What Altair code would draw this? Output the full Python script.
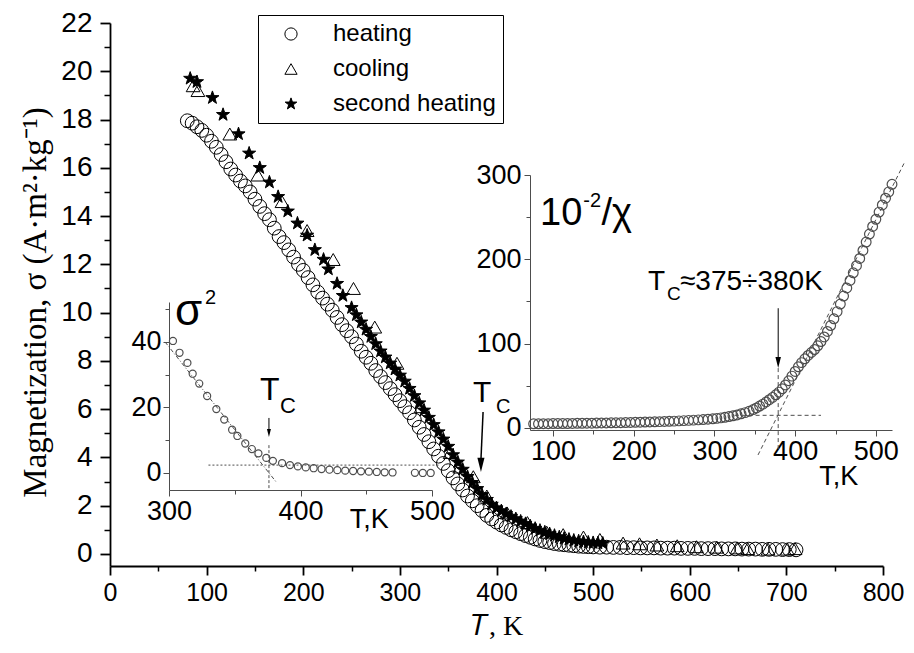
import altair as alt
import pandas as pd

SANS = "Liberation Sans"
SERIF = "Liberation Serif"

# ---------------- main data: magnetization vs T ----------------
series_names = ["heating", "cooling", "second heating"]

heat_T = [80, 85, 90, 95, 100, 105, 110, 115, 120, 125, 130, 135, 140, 145, 150, 155, 160, 165, 170, 175,
          180, 185, 190, 195, 200, 205, 210, 215, 220, 225, 230, 235, 240, 245, 250, 255, 260, 265, 270, 275,
          280, 285, 290, 295, 300, 305, 310, 315, 320, 325, 330, 335, 340, 345, 350, 355, 360, 365, 370, 375,
          380, 385, 390, 395, 400, 405, 410, 415, 420, 425, 430, 435, 440, 445, 450, 455, 460, 465, 470, 475,
          480, 485, 490, 495, 500, 507, 514, 521, 528, 535, 542, 549, 556, 563, 570, 577, 584, 591, 598, 605,
          612, 619, 626, 633, 640, 647, 654, 661, 668, 675, 682, 689, 696, 703, 710]
heat_S = [17.95, 17.85, 17.7, 17.55, 17.35, 17.1, 16.85, 16.55, 16.25, 15.95, 15.7, 15.45, 15.25, 15.0, 14.7,
          14.4, 14.1, 13.85, 13.5, 13.15, 12.9, 12.6, 12.3, 12.0, 11.75, 11.45, 11.15, 10.85, 10.6, 10.35,
          10.1, 9.8, 9.5, 9.25, 9.0, 8.7, 8.4, 8.15, 7.9, 7.6, 7.35, 7.1, 6.85, 6.6, 6.35, 6.1, 5.85, 5.55,
          5.25, 4.95, 4.65, 4.35, 4.05, 3.75, 3.45, 3.15, 2.9, 2.65, 2.4, 2.2, 2.0, 1.8, 1.6, 1.45, 1.32,
          1.2, 1.1, 1.0, 0.92, 0.84, 0.76, 0.69, 0.62, 0.56, 0.51, 0.47, 0.43, 0.4, 0.38, 0.36, 0.34, 0.32,
          0.31, 0.3, 0.29, 0.28, 0.28, 0.27, 0.27, 0.26, 0.26, 0.25, 0.25, 0.25, 0.24, 0.24, 0.24, 0.23,
          0.23, 0.23, 0.22, 0.22, 0.22, 0.21, 0.21, 0.21, 0.2, 0.2, 0.2, 0.19, 0.19, 0.19, 0.18, 0.18, 0.17]

cool_T = [86, 91, 124, 153, 178, 204, 231, 252, 274, 297, 322, 352, 362, 376, 390, 411, 432, 452, 469, 490,
          507, 531, 548, 566, 587, 607, 628, 649, 660, 681, 701, 709]
cool_S = [19.4, 19.2, 17.4, 15.7, 14.6, 13.4, 12.2, 11.0, 9.4, 7.9, 6.1, 4.2, 3.6, 3.2, 2.4, 1.7, 1.3, 0.9,
          0.8, 0.7, 0.6, 0.45, 0.42, 0.37, 0.34, 0.3, 0.28, 0.25, 0.22, 0.2, 0.2, 0.22]

star_T = [83, 90, 106, 117, 133, 144, 155, 165, 174, 184, 194, 204, 212, 221, 226, 235, 241, 250, 255, 260,
          265, 270, 275, 280, 285, 290, 295, 300, 305, 310, 315, 320, 325, 330, 335, 340, 345, 350, 355, 360,
          365, 370, 375, 380, 385, 390, 395, 400, 405, 410, 415, 420, 425, 430, 435, 440, 445, 450, 455, 460,
          465, 470, 475, 480, 485, 490, 495, 500, 505, 510]
star_S = [19.7, 19.56, 18.9, 18.2, 17.4, 16.6, 16.0, 15.4, 14.8, 14.2, 13.7, 13.2, 12.6, 12.2, 11.8, 11.2,
          10.7, 10.2, 9.9, 9.6, 9.3, 9.0, 8.7, 8.4, 8.15, 7.9, 7.65, 7.4, 7.15, 6.85, 6.55, 6.25, 5.95, 5.65,
          5.35, 5.05, 4.75, 4.45, 4.1, 3.8, 3.5, 3.2, 2.95, 2.7, 2.45, 2.25, 2.05, 1.9, 1.78, 1.66, 1.55, 1.45,
          1.35, 1.25, 1.15, 1.05, 0.97, 0.9, 0.83, 0.76, 0.7, 0.64, 0.6, 0.56, 0.53, 0.5, 0.48, 0.46, 0.45, 0.44]

# ---------------- left inset: sigma^2 vs T ----------------
s2_T = [303, 308, 314, 318, 323, 329, 336, 342, 348, 352, 358, 363, 368, 374, 379, 386, 392, 398, 404, 410,
        416, 422, 428, 434, 440, 446, 452, 458, 464, 470, 487, 493, 499]
s2_V = [40.3, 36.7, 33.6, 30.3, 27.3, 23.5, 19.5, 16.3, 13.2, 11.3, 9.0, 7.3, 6.0, 4.6, 3.7, 3.0, 2.4, 2.0,
        1.7, 1.45, 1.2, 1.0, 0.85, 0.7, 0.6, 0.5, 0.4, 0.3, 0.2, 0.15, 0.05, 0.0, 0.0]

# ---------------- right inset: 10^-2/chi vs T ----------------
chi_T = [76, 82, 88, 94, 100, 106, 112, 118, 124, 130, 136, 142, 148, 154, 160, 166, 172, 178, 184, 190,
         196, 202, 208, 214, 220, 226, 232, 238, 244, 250, 256, 262, 268, 274, 280, 286, 292, 298, 303, 308,
         313, 318, 323, 328, 333, 338, 343, 348, 352, 356, 360, 364, 368, 372, 376, 380, 384, 388, 392, 396,
         400, 404, 408, 412, 416, 420, 424, 428, 432, 436, 440, 444, 448, 452, 456, 460, 464, 468, 472, 476,
         480, 484, 488, 492, 496, 500, 504, 508, 512, 516, 520]
chi_V = [5.0, 5.0, 5.1, 5.1, 5.2, 5.2, 5.3, 5.3, 5.4, 5.5, 5.5, 5.6, 5.7, 5.8, 5.9, 6.0, 6.1, 6.2, 6.3, 6.4,
         6.5, 6.7, 6.8, 7.0, 7.1, 7.3, 7.5, 7.7, 7.9, 8.1, 8.4, 8.7, 9.0, 9.3, 9.6, 10.0, 10.4, 10.9, 11.4,
         12.0, 12.7, 13.5, 14.4, 15.5, 16.8, 18.2, 19.8, 21.8, 23.8, 26.0, 28.3, 30.8, 33.5, 36.3, 39.3, 42.5,
         46.5, 51.0, 56.0, 61.5, 67.0, 72.5, 77.5, 82.0, 86.0, 89.5, 93.0, 97.5, 102.5, 108.0, 114.5, 121.5,
         129.5, 138.0, 147.0, 156.5, 166.0, 175.0, 184.0, 192.5, 201.0, 210.5, 220.5, 230.0, 239.0, 247.5,
         256.0, 264.5, 272.5, 280.0, 289.0]

# ---------------- tick values (major / minor) ----------------
main_x_major = [0, 100, 200, 300, 400, 500, 600, 700, 800]
main_x_minor = [50, 150, 250, 350, 450, 550, 650, 750]
main_y_major = [0, 2, 4, 6, 8, 10, 12, 14, 16, 18, 20, 22]
main_y_minor = [1, 3, 5, 7, 9, 11, 13, 15, 17, 19, 21]
ls_x_major = [300, 400, 500]
ls_x_minor = [350, 450]
ls_y_major = [0, 20, 40]
ls_y_minor = [10, 30, 50]
rs_x_major = [100, 200, 300, 400, 500]
rs_x_minor = [150, 250, 350, 450]
rs_y_major = [0, 100, 200, 300]
rs_y_minor = [50, 150, 250]

# ---------------- annotations (in each panel's data units) ----------------
main_txt = ["T", "C"]
main_txt_x = [375.8, 399.6]
main_txt_y = [6.29, 5.84]
main_txt_fs = [30, 20]
main_arrow = [386.1, 5.88, 383.9, 3.9]
main_head = [383.9, 3.69]

ls_txt = ["σ", "2", "T", "C", "T,K"]
ls_txt_x = [304.6, 327.4, 369.2, 384.4, 437.5]
ls_txt_y = [45.2, 51.6, 22.3, 18.3, -16.8]
ls_txt_fs = [44, 20, 32, 22, 27]
ls_fit_line = [297, 40, 382, -3]
ls_base_line = [330, 2.4, 506, 2.4]
ls_tc_line = [376, 8.5, 376, -5.2]
ls_arrow = [376, 16.8, 376, 12.6]
ls_head = [376, 12.2]

rs_txt = ["10", "-2", "/χ", "T", "C", "≈375÷380K", "T,K"]
rs_txt_x = [83.9, 137.5, 160.0, 217.6, 241.2, 257.3, 430.0]
rs_txt_y = [240.8, 262.0, 240.8, 163.7, 151.8, 163.7, -67.6]
rs_txt_fs = [38, 20, 38, 28, 19, 28, 27]
rs_cw_line = [354, -32, 535, 314]
rs_base_line = [325, 15, 432, 15]
rs_tc_line = [379, 71, 379, -26]
rs_arrow = [379, 142, 379, 80]
rs_head = [379, 77.5]

HEAD = "M-0.5,-1L0.5,-1L0,1Z"
STAR = ("M0,-1L0.235,-0.324L0.951,-0.309L0.38,0.124L0.588,0.809L0,0.4L-0.588,0.809"
        "L-0.38,0.124L-0.951,-0.309L-0.235,-0.324Z")
GRAY = "#4d4d4d"


def major_axis(values, orient, offset, tick, color, width, fs, pad, **kw):
    return alt.Axis(orient=orient, offset=offset, values=values, tickSize=tick, tickColor=color,
                    tickWidth=width, domainColor=color, domainWidth=width, labelFont=SANS, labelFontSize=fs,
                    labelColor="black", labelPadding=pad, labelFlush=False, labelOverlap=False, grid=False,
                    **kw)


def minor_axis(values, orient, offset, tick, color, width):
    return alt.Axis(orient=orient, offset=offset, values=values, tickSize=tick, tickColor=color,
                    tickWidth=width, domain=False, labels=False, grid=False, title=None)


def seg(c, sx, sy, dash=None, color="black", width=1.0):
    df = pd.DataFrame({"x": [c[0]], "y": [c[1]], "x2": [c[2]], "y2": [c[3]]})
    kw = dict(color=color, strokeWidth=width)
    if dash:
        kw["strokeDash"] = dash
    return alt.Chart(df).mark_rule(**kw).encode(
        x=alt.X("x:Q", scale=sx, axis=None), y=alt.Y("y:Q", scale=sy, axis=None),
        x2="x2:Q", y2="y2:Q")


def head(c, size, sx, sy, color="black"):
    df = pd.DataFrame({"x": [c[0]], "y": [c[1]]})
    return alt.Chart(df).mark_point(shape=HEAD, filled=True, color=color, size=size, opacity=1,
                                    strokeWidth=0).encode(
        x=alt.X("x:Q", scale=sx, axis=None), y=alt.Y("y:Q", scale=sy, axis=None))


def texts(ts, xs, ys, fss, sx, sy, xaxis=None, yaxis=None, color="black"):
    df = pd.DataFrame({"x": xs, "y": ys, "t": ts, "fs": fss})
    return alt.Chart(df).mark_text(align="left", baseline="alphabetic", font=SANS, color=color).encode(
        x=alt.X("x:Q", scale=sx, axis=xaxis), y=alt.Y("y:Q", scale=sy, axis=yaxis),
        text="t:N", size=alt.Size("fs:Q", scale=None, legend=None))


# ================= main panel =================
W, H = 773, 543
mx = alt.Scale(domain=[0, 800], nice=False, zero=False)
my = alt.Scale(domain=[-0.5, 22], nice=False, zero=False)

df_main = pd.DataFrame({
    "T": heat_T + cool_T + star_T,
    "S": heat_S + cool_S + star_S,
    "series": [series_names[0]] * len(heat_T) + [series_names[1]] * len(cool_T) + [series_names[2]] * len(star_T),
})

x_axis_main = major_axis(main_x_major, "bottom", 0, 9, "black", 1.8, 25, 5,
                         title="𝑇, K", titleFont=SERIF, titleFontSize=28, titleFontWeight="normal",
                         titleColor="black", titleBaseline="alphabetic", titleY=68)
y_axis_main = major_axis(main_y_major, "left", 0, 10, "black", 1.8, 28, 8,
                         title="Magnetization, σ (A·m²·kg⁻¹)", titleFont=SERIF, titleFontSize=33,
                         titleFontWeight="normal", titleColor="black", titleBaseline="alphabetic",
                         titleAngle=270, titleX=-65, titleY=279)

leg = alt.Legend(title=None, orient="none", legendX=148, legendY=-8, strokeColor="black", fillColor="white",
                 padding=7, labelFont=SANS, labelFontSize=24, labelColor="black", labelLimit=400,
                 symbolSize=150, symbolStrokeWidth=1, rowPadding=11, labelOffset=30, symbolOffset=14)

main_pts = alt.Chart(df_main).mark_point(filled=False, color="black", strokeWidth=1, size=190,
                                         opacity=1).encode(
    x=alt.X("T:Q", scale=mx, axis=x_axis_main),
    y=alt.Y("S:Q", scale=my, axis=y_axis_main),
    shape=alt.Shape("series:N", scale=alt.Scale(domain=series_names, range=["circle", "triangle-up", STAR]),
                    legend=leg),
    fill=alt.Fill("series:N", scale=alt.Scale(domain=series_names, range=["transparent", "transparent", "black"]),
                  legend=leg),
    stroke=alt.Stroke("series:N", scale=alt.Scale(domain=series_names, range=["black", "black", "black"]),
                      legend=leg),
)

main_layer = alt.layer(
    main_pts,
    seg(main_arrow, mx, my, width=1.5),
    head(main_head, 200, mx, my),
    texts(main_txt, main_txt_x, main_txt_y, main_txt_fs, mx, my,
          xaxis=minor_axis(main_x_minor, "bottom", 0, 5, "black", 1.5),
          yaxis=minor_axis(main_y_minor, "left", 0, 6, "black", 1.5)),
).resolve_axis(x="independent", y="independent")

# ================= left inset =================
lsx = alt.Scale(domain=[300, 500], range=[59, 322], nice=False, zero=False)
lsy = alt.Scale(domain=[-5.2, 52.2], range=[467, 279], nice=False, zero=False)
df_s2 = pd.DataFrame({"T": s2_T, "V": s2_V})
ls_pts = alt.Chart(df_s2).mark_point(shape="circle", filled=False, color=GRAY, size=50, strokeWidth=1.2,
                                     opacity=1).encode(
    x=alt.X("T:Q", scale=lsx, axis=major_axis(ls_x_major, "bottom", -76, 6, GRAY, 1, 27, 2, title=None)),
    y=alt.Y("V:Q", scale=lsy, axis=major_axis(ls_y_major, "left", -59, 6, GRAY, 1, 27, 2, title=None)))
left_layer = alt.layer(
    seg(ls_fit_line, lsx, lsy, dash=[4, 2, 1, 2], color=GRAY),
    seg(ls_base_line, lsx, lsy, dash=[2, 2], color=GRAY),
    seg(ls_tc_line, lsx, lsy, dash=[3, 2], color=GRAY),
    ls_pts,
    seg(ls_arrow, lsx, lsy, color="black"),
    head(ls_head, 64, lsx, lsy),
    texts(ls_txt, ls_txt_x, ls_txt_y, ls_txt_fs, lsx, lsy,
          xaxis=minor_axis(ls_x_minor, "bottom", -76, 4, GRAY, 1),
          yaxis=minor_axis(ls_y_minor, "left", -59, 4, GRAY, 1)),
).resolve_axis(x="independent", y="independent")

# ================= right inset =================
rsx = alt.Scale(domain=[71.5, 520], range=[420, 782], nice=False, zero=False)
rsy = alt.Scale(domain=[-2.4, 300], range=[407, 152], nice=False, zero=False)
df_chi = pd.DataFrame({"T": chi_T, "V": chi_V})
rs_pts = alt.Chart(df_chi).mark_point(shape="circle", filled=False, color=GRAY, size=95, strokeWidth=1.2,
                                      opacity=1).encode(
    x=alt.X("T:Q", scale=rsx, axis=major_axis(rs_x_major, "bottom", -136, 6, GRAY, 1, 27, 2, title=None)),
    y=alt.Y("V:Q", scale=rsy, axis=major_axis(rs_y_major, "left", -420, 6, GRAY, 1, 27, 3, title=None)))
right_layer = alt.layer(
    seg(rs_cw_line, rsx, rsy, dash=[4, 3], color=GRAY),
    seg(rs_base_line, rsx, rsy, dash=[4, 3], color=GRAY),
    seg(rs_tc_line, rsx, rsy, dash=[4, 3], color=GRAY),
    rs_pts,
    seg(rs_arrow, rsx, rsy, color="black"),
    head(rs_head, 121, rsx, rsy),
    texts(rs_txt, rs_txt_x, rs_txt_y, rs_txt_fs, rsx, rsy,
          xaxis=minor_axis(rs_x_minor, "bottom", -136, 4, GRAY, 1),
          yaxis=minor_axis(rs_y_minor, "left", -420, 4, GRAY, 1)),
).resolve_axis(x="independent", y="independent")

chart = alt.layer(main_layer, left_layer, right_layer).resolve_scale(
    x="independent", y="independent"
).properties(
    width=W, height=H,
    autosize=alt.AutoSizeParams(type="none"),
    padding={"left": 102, "top": 15, "right": 22, "bottom": 74},
    background="white",
).configure_view(stroke=None)

chart.save("out.html", embed_options={"renderer": "svg", "actions": False})
